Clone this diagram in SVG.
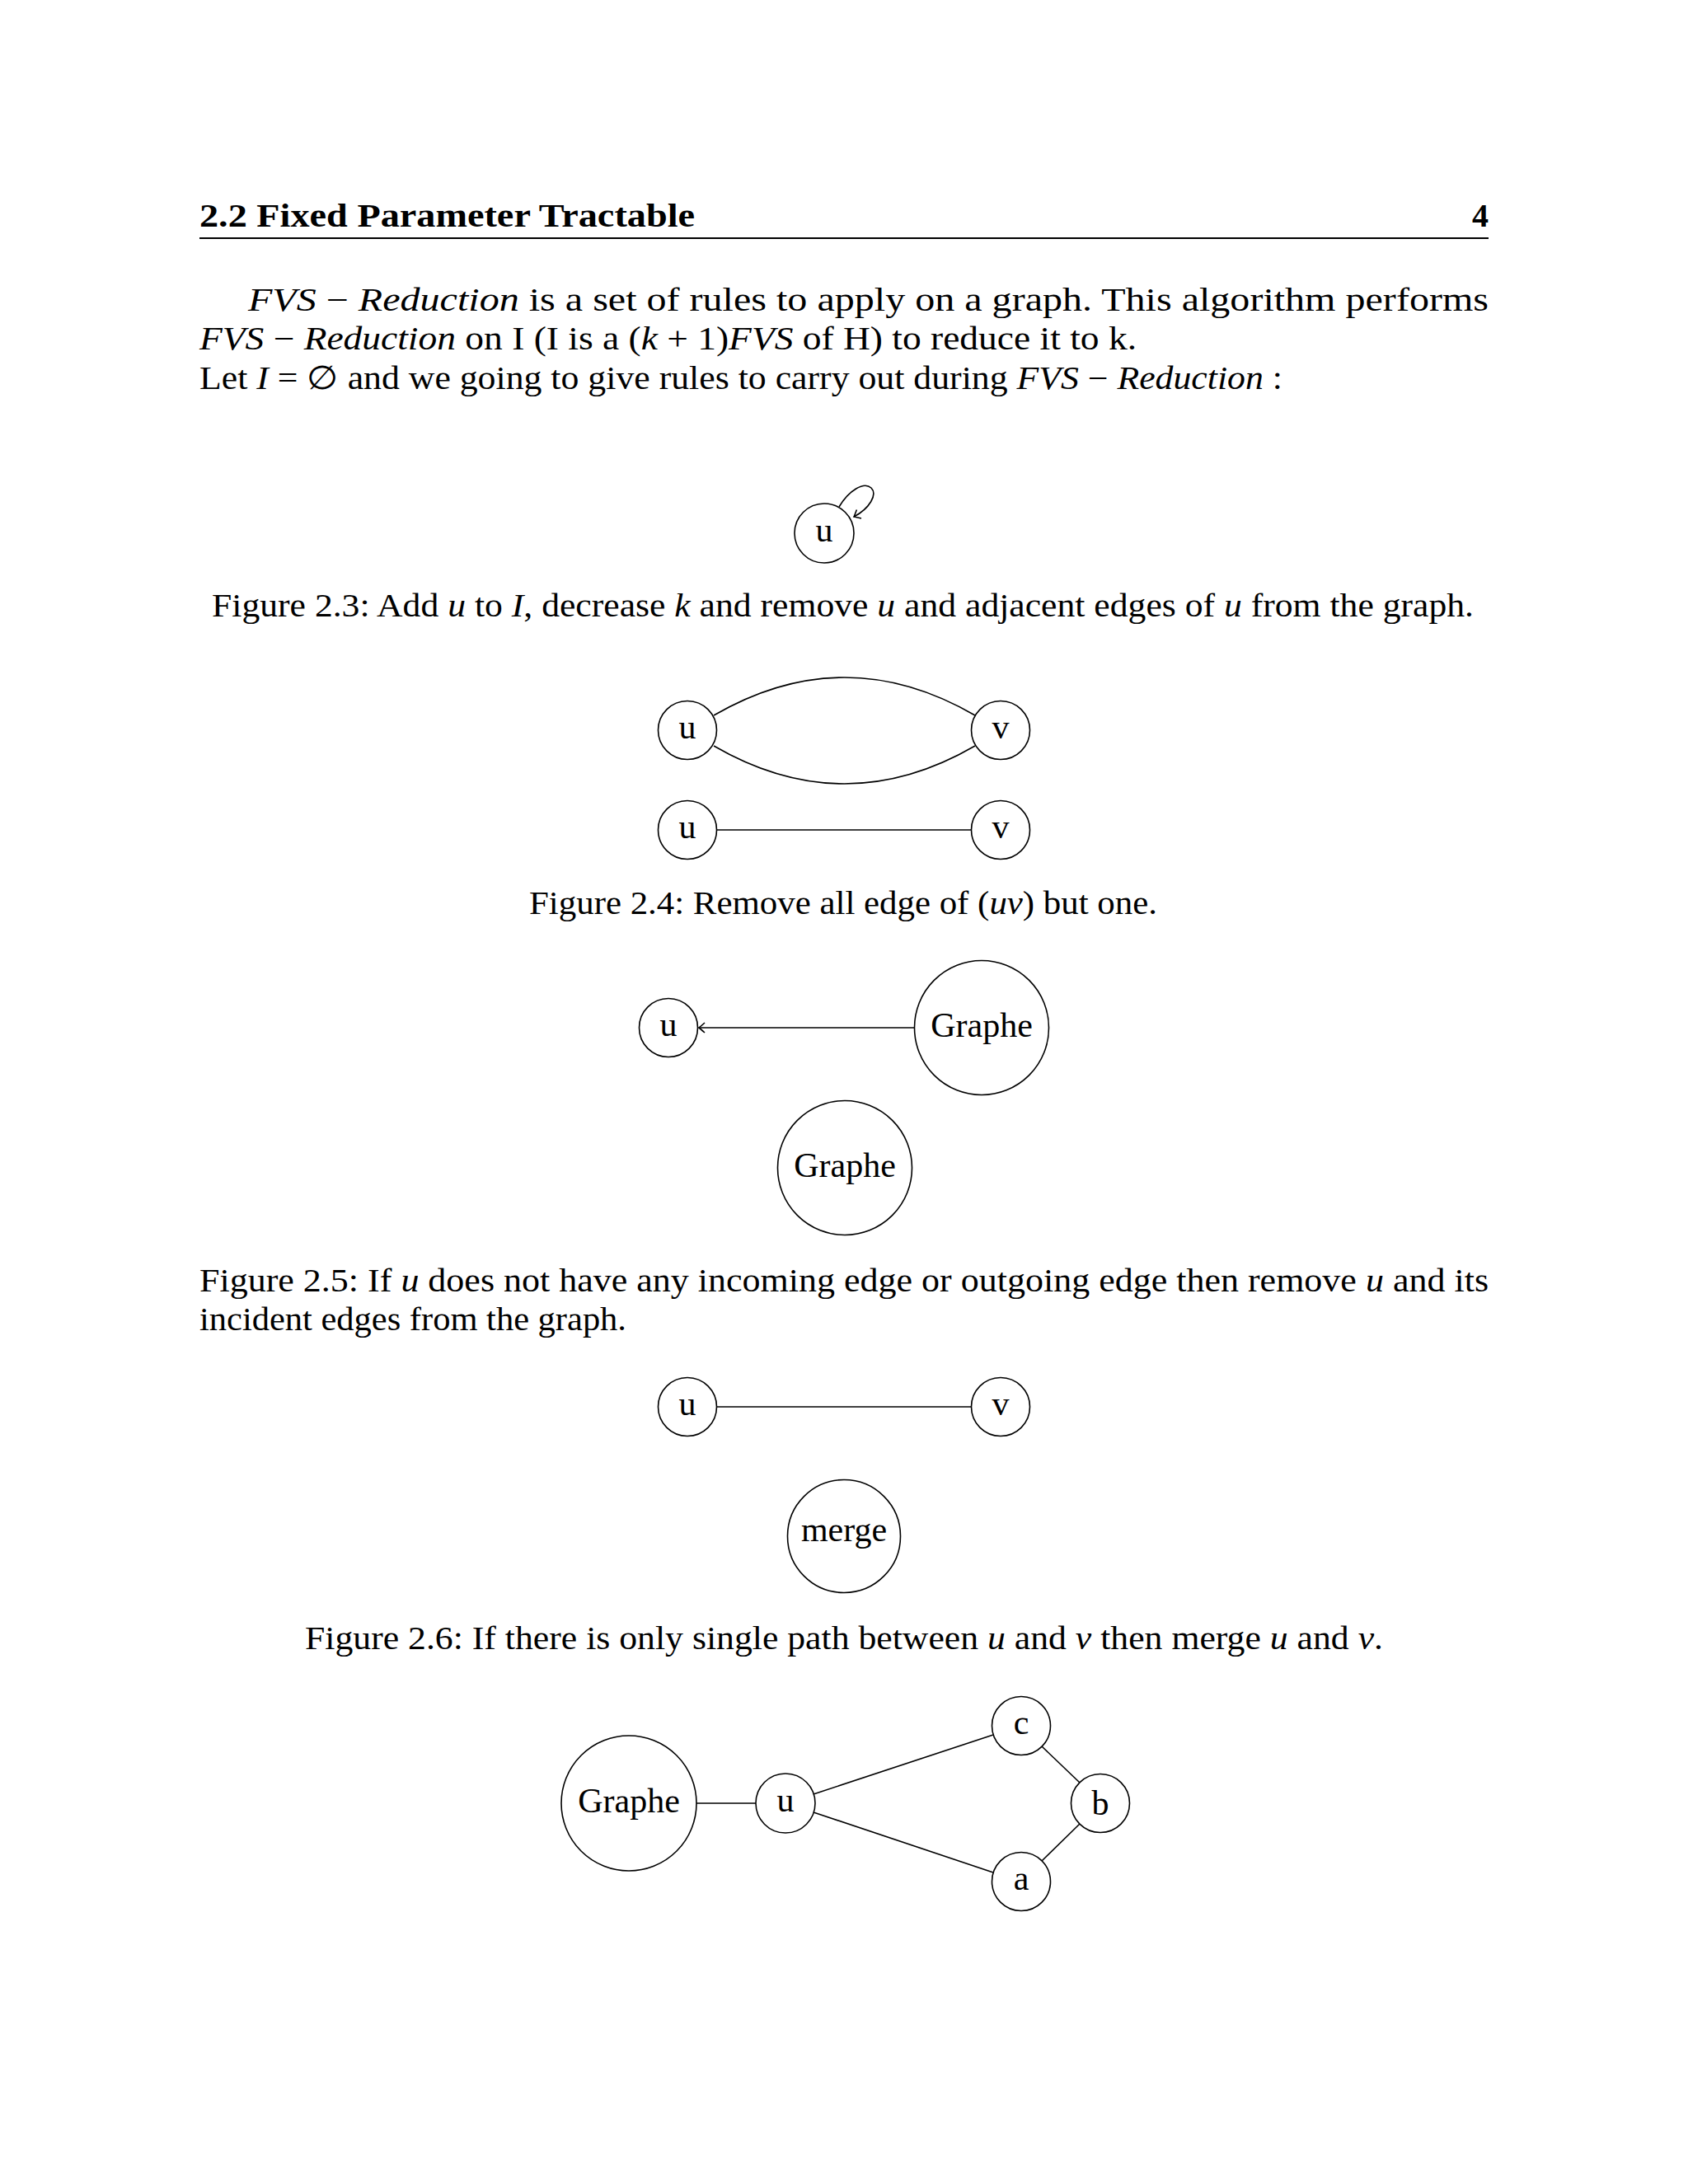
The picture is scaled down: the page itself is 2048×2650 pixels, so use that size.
<svg xmlns="http://www.w3.org/2000/svg" width="2048" height="2650" viewBox="0 0 2048 2650">
<style>
text{font-family:"Liberation Serif","Times New Roman",serif;fill:#000}
.body{font-size:40px}
.hdr{font-size:40px;font-weight:bold}
.lbl{font-size:42px;text-anchor:middle}
.node{fill:#fff;stroke:#000;stroke-width:1.6}
.edge{fill:none;stroke:#000;stroke-width:1.6}
.it{font-style:italic}
</style>
<defs>
<marker id="arr" markerUnits="userSpaceOnUse" markerWidth="20" markerHeight="20" refX="0" refY="0" viewBox="-10 -10 20 20" orient="auto" overflow="visible">
<path d="M -7 -6 Q -2 -1.5 0 0 Q -2 1.5 -7 6" fill="none" stroke="#000" stroke-width="1.6"/>
</marker>
</defs>
<rect width="2048" height="2650" fill="#fff"/>

<g id="header">
<text class="hdr" x="242" y="275" textLength="601" lengthAdjust="spacingAndGlyphs">2.2 Fixed Parameter Tractable</text>
<text class="hdr" x="1806" y="275" text-anchor="end">4</text>
<line x1="242" y1="289" x2="1806" y2="289" stroke="#000" stroke-width="2"/>
</g>

<g id="body">
<text class="body" x="301" y="377" textLength="1505" lengthAdjust="spacingAndGlyphs"><tspan class="it">FVS</tspan> − <tspan class="it">Reduction</tspan> is a set of rules to apply on a graph.  This algorithm performs</text>
<text class="body" x="242" y="424" textLength="1137" lengthAdjust="spacingAndGlyphs"><tspan class="it">FVS</tspan> − <tspan class="it">Reduction</tspan> on I (I is a (<tspan class="it">k</tspan> + 1)<tspan class="it">FVS</tspan> of H) to reduce it to k.</text>
<text class="body" x="242" y="472" textLength="1314" lengthAdjust="spacingAndGlyphs">Let <tspan class="it">I</tspan> = ∅ and we going to give rules to carry out during <tspan class="it">FVS</tspan> − <tspan class="it">Reduction</tspan> :</text>
</g>

<g id="connectors">
<path class="edge" d="M 1018 615 C 1030 595, 1048 584, 1057 592 C 1065 600, 1055 617, 1036 627" marker-end="url(#arr)"/>
<path class="edge" d="M 866 868 Q 1024.5 776 1183 868"/>
<path class="edge" d="M 866 905 Q 1024.5 997 1183 905"/>
<line class="edge" x1="870" y1="1007" x2="1178" y2="1007"/>
<line class="edge" x1="1109" y1="1247" x2="848" y2="1247" marker-end="url(#arr)"/>
<line class="edge" x1="870" y1="1707" x2="1178" y2="1707"/>
<line class="edge" x1="845" y1="2188" x2="917" y2="2188"/>
<line class="edge" x1="987" y1="2177" x2="1205" y2="2105"/>
<line class="edge" x1="987" y1="2199" x2="1205" y2="2272"/>
<line class="edge" x1="1264" y1="2119" x2="1310" y2="2163"/>
<line class="edge" x1="1264" y1="2258" x2="1310" y2="2213"/>
</g>

<g id="fig23-u"><circle class="node" cx="1000" cy="647" r="36"/><text class="lbl" x="1000" y="657">u</text></g>
<text class="body" x="257" y="748" textLength="1531" lengthAdjust="spacingAndGlyphs">Figure 2.3: Add <tspan class="it">u</tspan> to <tspan class="it">I</tspan>, decrease <tspan class="it">k</tspan> and remove <tspan class="it">u</tspan> and adjacent edges of <tspan class="it">u</tspan> from the graph.</text>

<g id="fig24-u1"><circle class="node" cx="834" cy="886" r="35.5"/><text class="lbl" x="834" y="896">u</text></g>
<g id="fig24-v1"><circle class="node" cx="1214" cy="886" r="35.5"/><text class="lbl" x="1214" y="896">v</text></g>
<g id="fig24-u2"><circle class="node" cx="834" cy="1007" r="35.5"/><text class="lbl" x="834" y="1017">u</text></g>
<g id="fig24-v2"><circle class="node" cx="1214" cy="1007" r="35.5"/><text class="lbl" x="1214" y="1017">v</text></g>
<text class="body" x="642" y="1109" textLength="762" lengthAdjust="spacingAndGlyphs">Figure 2.4: Remove all edge of (<tspan class="it">uv</tspan>) but one.</text>

<g id="fig25-u"><circle class="node" cx="811" cy="1247" r="35.5"/><text class="lbl" x="811" y="1257">u</text></g>
<g id="fig25-graphe1"><circle class="node" cx="1191" cy="1247" r="81.5"/><text class="lbl" x="1191" y="1258">Graphe</text></g>
<g id="fig25-graphe2"><circle class="node" cx="1025" cy="1417" r="81.5"/><text class="lbl" x="1025" y="1428">Graphe</text></g>
<text class="body" x="242" y="1567" textLength="1564" lengthAdjust="spacingAndGlyphs">Figure 2.5: If <tspan class="it">u</tspan> does not have any incoming edge or outgoing edge then remove <tspan class="it">u</tspan> and its</text>
<text class="body" x="242" y="1614" textLength="518" lengthAdjust="spacingAndGlyphs">incident edges from the graph.</text>

<g id="fig26-u"><circle class="node" cx="834" cy="1707" r="35.5"/><text class="lbl" x="834" y="1717">u</text></g>
<g id="fig26-v"><circle class="node" cx="1214" cy="1707" r="35.5"/><text class="lbl" x="1214" y="1717">v</text></g>
<g id="fig26-merge"><circle class="node" cx="1024" cy="1864" r="68.5"/><text class="lbl" x="1024" y="1870">merge</text></g>
<text class="body" x="370" y="2001" textLength="1308" lengthAdjust="spacingAndGlyphs">Figure 2.6: If there is only single path between <tspan class="it">u</tspan> and <tspan class="it">v</tspan> then merge <tspan class="it">u</tspan> and <tspan class="it">v</tspan>.</text>

<g id="fig27-graphe"><circle class="node" cx="763" cy="2188" r="82"/><text class="lbl" x="763" y="2199">Graphe</text></g>
<g id="fig27-u"><circle class="node" cx="953" cy="2188" r="36"/><text class="lbl" x="953" y="2198">u</text></g>
<g id="fig27-c"><circle class="node" cx="1239" cy="2094" r="35.5"/><text class="lbl" x="1239" y="2104">c</text></g>
<g id="fig27-b"><circle class="node" cx="1335" cy="2188" r="35.5"/><text class="lbl" x="1335" y="2202">b</text></g>
<g id="fig27-a"><circle class="node" cx="1239" cy="2283" r="35.5"/><text class="lbl" x="1239" y="2293">a</text></g>
</svg>
